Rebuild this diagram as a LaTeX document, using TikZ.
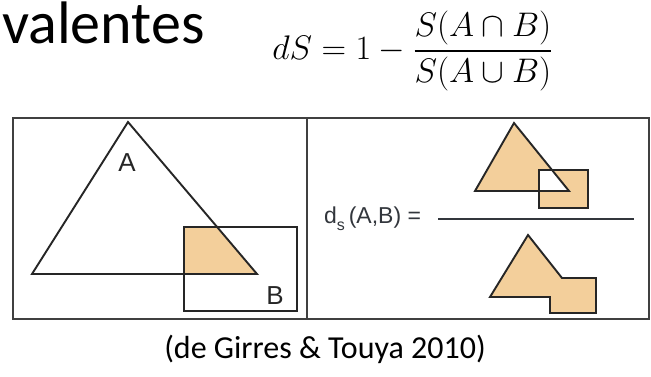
\documentclass[tikz,border=0pt]{standalone}
\usepackage{amsmath}
\usepackage{fontspec}
\setmainfont{Carlito}
\newfontfamily\arialfont{Liberation Sans}
\definecolor{sandfill}{RGB}{243,207,155}
\definecolor{inkgray}{RGB}{50,54,60}
\usetikzlibrary{positioning}

\begin{document}
\begin{tikzpicture}[x=1pt,y=-1pt,
  shp/.style={draw=black!85,line width=1.9pt,line join=miter},
  thinshp/.style={draw=black!85,line width=1.5pt},
  lbl/.style={font=\arialfont\fontsize{26}{28}\selectfont,inner sep=0pt,text=black!85}]
  \useasboundingbox (0,0) rectangle (651,376);
  \fill[white] (0,0) rectangle (651,376);
  % title fragment and formula
  \node[anchor=base west,inner sep=0pt,font=\fontsize{60}{64}\selectfont] (title) at (2,43) {valentes};
  \node[anchor=west,inner sep=0pt,scale=1.37,font=\fontsize{24}{26}\selectfont] (dsform) at (272,51)
    {$dS = 1 - \dfrac{S(A \cap B)}{S(A \cup B)}$};
  % frame
  \draw[shp,draw=black!75] (13,118) rectangle (649,319);
  \draw[shp,draw=black!75] (307,118) -- (307,319);
  % left panel
  \fill[sandfill] (184,227) -- (217,227) -- (257,274) -- (184,274) -- cycle;
  \draw[shp] (128,122) -- (257,274) -- (32,274) -- cycle;
  \draw[thinshp] (184,227) rectangle (297,311);
  \node[lbl] (labA) at (127,163) {A};
  \node[lbl] (labB) at (275,296) {B};
  % right panel - numerator
  \fill[sandfill] (514,123) -- (569,191) -- (475,191) -- cycle;
  \fill[sandfill] (539,170) rectangle (588,208);
  \fill[white] (539,170) -- (552,170) -- (569,191) -- (539,191) -- cycle;
  \draw[shp] (514,123) -- (569,191) -- (475,191) -- cycle;
  \draw[thinshp] (539,170) rectangle (588,208);
  % fraction bar
  \draw[inkgray,line width=1.6pt] (438,219) -- (634,219);
  % denominator
  \filldraw[fill=sandfill,shp] (528,235) -- (562,278) -- (596,278) -- (596,313)
    -- (550,313) -- (550,297) -- (490,297) -- cycle;
  \node[anchor=west,inner sep=0pt,text=inkgray,font=\arialfont\fontsize{23}{26}\selectfont] (dslbl) at (324,219)
    {d\raisebox{-0.3em}{\fontsize{16}{17}\selectfont s}\,(A,B) =};
  % source
  \node[inner sep=0pt,font=\fontsize{32}{36}\selectfont] (cite) at (325,349) {(de Girres \& Touya 2010)};
\end{tikzpicture}
\end{document}
